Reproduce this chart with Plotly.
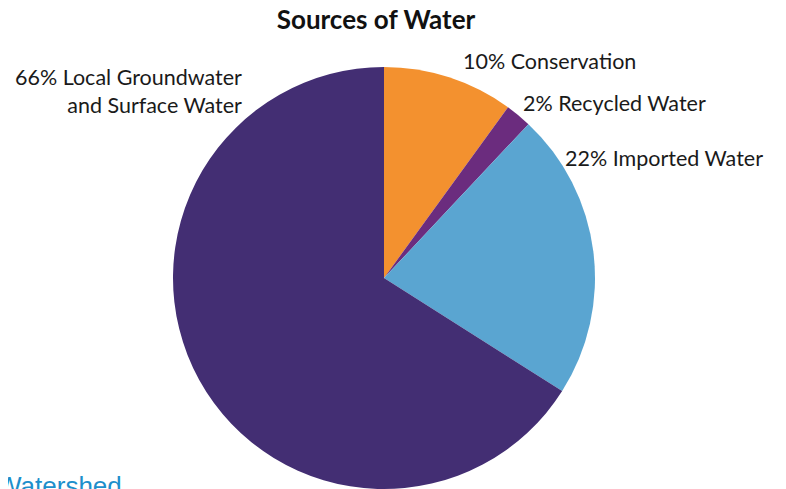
import plotly.graph_objects as go

# Data
categories = ["Conservation", "Recycled Water", "Imported Water", "Local Groundwater and Surface Water"]
values = [10, 2, 22, 66]
colors = ["#F3912F", "#6B2C7E", "#5AA5D1", "#432E73"]
label_lines = [
    ["10% Conservation"],
    ["2% Recycled Water"],
    ["22% Imported Water"],
    ["66% Local Groundwater", "and Surface Water"],
]

W, H = 786, 489
OFF = 8  # page body margin offset
cx, cy, r = 384 - OFF, 278 - OFF, 211

fig = go.Figure(go.Pie(
    labels=categories,
    values=values,
    sort=False,
    direction="clockwise",
    rotation=0,
    marker=dict(colors=colors, line=dict(width=0)),
    textinfo="none",
    hoverinfo="label+percent",
    showlegend=False,
    domain=dict(x=[(cx - r) / W, (cx + r) / W], y=[(H - cy - r) / H, (H - cy + r) / H]),
))

# label placement (reference pixel positions, anchor)
label_pos = [
    (461, 61, "left"),
    (521, 103, "left"),
    (563, 158, "left"),
    (244, 91, "right"),
]

annotations = []
for lines, (px, py, anchor) in zip(label_lines, label_pos):
    annotations.append(dict(
        text="<br>".join(lines),
        x=(px - OFF) / W, y=1 - (py - OFF) / H, xref="paper", yref="paper",
        xanchor=anchor, yanchor="middle", align=anchor,
        showarrow=False,
        font=dict(family="Lato", size=21.5, color="#1a1a1a"),
    ))

annotations.append(dict(
    text="Watershed",
    x=(-5 - OFF) / W, y=1 - (469 - OFF) / H, xref="paper", yref="paper",
    xanchor="left", yanchor="top", showarrow=False,
    font=dict(family="Liberation Sans", size=26, color="#1D8FCB"),
))

fig.update_layout(
    width=W, height=H,
    margin=dict(l=0, r=0, t=0, b=0),
    paper_bgcolor="white",
    plot_bgcolor="white",
    title=dict(
        text="<b>Sources of Water</b>",
        x=(376 - OFF) / W, y=1 - (20 - OFF) / H, xanchor="center", yanchor="middle",
        font=dict(family="Lato", size=26, color="#111111"),
    ),
    annotations=annotations,
)

fig.write_html("out.html")
